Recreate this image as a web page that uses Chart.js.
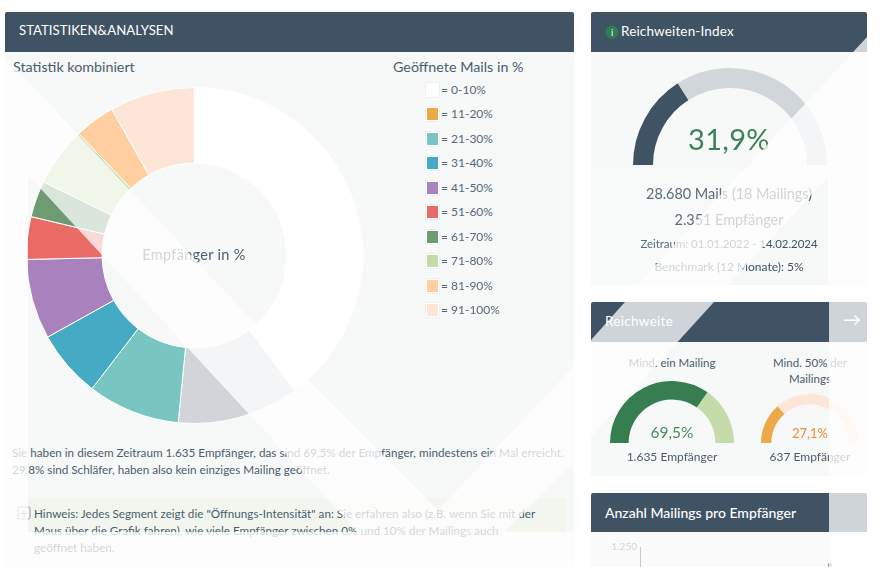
<!DOCTYPE html>
<html>
<head>
<meta charset="utf-8">
<title>Statistiken</title>
<script src="https://cdn.jsdelivr.net/npm/chart.js@4/dist/chart.umd.min.js"></script>
<style>
html,body{margin:0;padding:0;background:#fff;overflow:hidden;width:880px;height:567px}
body{position:relative;font-family:Lato,"Open Sans",sans-serif;color:#44586a}
.box{position:absolute}
.head{position:absolute;background:#3f5364;border-radius:2px 2px 0 0}
.body{position:absolute;background:#f7f8f8}
.t{position:absolute;white-space:nowrap;transform:translateY(-50%);line-height:1.2}
.c{transform:translate(-50%,-50%)}
canvas{position:absolute}
#wm{position:absolute;left:0;top:0}
</style>
</head>
<body>
<div class="body" style="left:5px;top:52px;width:569px;height:515px"></div>
<div class="body" style="left:28px;top:498px;width:538px;height:34px;background:#f2f6ee"></div>
<div class="head" style="left:5px;top:12px;width:569px;height:40px"></div>
<div class="body" style="left:591px;top:52px;width:276px;height:233px"></div>
<div class="head" style="left:591px;top:12px;width:276px;height:40px"></div>
<div class="body" style="left:591px;top:342px;width:276px;height:134px"></div>
<div class="head" style="left:591px;top:302px;width:276px;height:40px"></div>
<div class="body" style="left:591px;top:532px;width:276px;height:35px;background:#fbfbfc"></div>
<div class="head" style="left:591px;top:493px;width:276px;height:39px"></div>

<canvas id="mainChart" width="337" height="337" style="left:26px;top:87px;width:337px;height:337px"></canvas>
<canvas id="indexGauge" width="194" height="97" style="left:633px;top:68px;width:194px;height:97px"></canvas>
<canvas id="reachGauge1" width="124" height="62" style="left:610px;top:381px;width:124px;height:62px"></canvas>
<canvas id="reachGauge2" width="98" height="49" style="left:761px;top:394px;width:98px;height:49px"></canvas>
<canvas id="mailsChart" width="276" height="300" style="left:591px;top:537px;width:276px;height:300px"></canvas>

<div id="texts"></div>
<div id="legend"></div>

<svg id="wm" width="880" height="567">
  <g fill="#fff" fill-opacity="0.75">
    <polygon points="8,60 310,382 438,510 575,365 575,460 505,532 358,532 28,175 28,532 5,532 5,60"/>
    <polygon points="0,532 575,532 575,567 0,567"/>
    <polygon points="867,37 792,118 637,285 728,285 828,177 828,285 867,285"/>
    <polygon points="625,302 714,302 591,437 591,340"/>
    <polygon points="829,302 867,302 867,567 829,567"/>
  </g>
  <polygon points="591,172 745,172 637,285 591,285" fill="#fff" fill-opacity="0.15"/>
</svg>

<script>
// main ring, clockwise from the top
var sliceLabels=["0-10%","11-20%","21-30%","31-40%","41-50%","51-60%","61-70%","71-80%","81-90%","91-100%"];
var sliceValues=[39.9,11.7,8.9,6.5,7.7,4.1,3.5,5.7,3.9,8.2];
var sliceColors=["#ffffff","#d1d5d9","#78c5c1","#45abc5","#a981bd","#ea6b66","#6d9c72","#c5dbaa","#ffcf9f","#fde6d8"];
var legendColors=["#ffffff","#e9ab45","#78c5c1","#45abc5","#a981bd","#ea6b66","#6d9c72","#c5dbaa","#ffcf9f","#fde6d8"];

var indexValues=[31.9,68.1];
var reachOne=[69.5,30.5];
var reachFifty=[27.1,72.9];

// only the top of this chart is on the screenshot
var mailsX=[15.4];
var mailsY=[1170];
var mailsTicks=[0,1250];

var textColor="#4a5d6e";

function addText(txt,x,y,size,color,center,weight)
{
	var d=document.createElement("div");
	d.className=center ? "t c" : "t";
	d.style.left=x+"px";
	d.style.top=y+"px";
	d.style.fontSize=size+"px";
	if(color) d.style.color=color;
	if(weight) d.style.fontWeight=weight;
	d.textContent=txt;
	document.getElementById("texts").appendChild(d);
	return d;
}

addText("STATISTIKEN&ANALYSEN",19,31,13.2,"#fff");
addText("Statistik kombiniert",13,67,14.3,textColor);
addText("Geöffnete Mails in %",393,67,14.3,textColor);
addText("Empfänger in %",194,255,14.5,textColor,true).style.letterSpacing=".3px";

var para=[
	["Sie haben in diesem Zeitraum 1.635 Empfänger, das sind 69,5% der Empfänger, mindestens ein Mal erreicht.",12,452],
	["29,8% sind Schläfer, haben also kein einziges Mailing geöffnet.",12,469],
	["Hinweis: Jedes Segment zeigt die \"Öffnungs-Intensität\" an: Sie erfahren also (z.B. wenn Sie mit der",34,513],
	["Maus über die Grafik fahren), wie viele Empfänger zwischen 0% und 10% der Mailings auch",34,530],
	["geöffnet haben.",34,547]
];
for(var i=0;i<para.length;i++)
{
	addText(para[i][0],para[i][1],para[i][2],11.7,textColor);
}

// little plus box in front of the hint
var plus=addText("+",24,513,13,"#7f8c96",true);
plus.style.width="11px";plus.style.height="11px";plus.style.lineHeight="10px";plus.style.textAlign="center";
plus.style.border="1px solid #8f9aa3";plus.style.borderRadius="2px";

// right column
var icon=addText("i",612,32,9,"#fff",true);
icon.style.width="13px";icon.style.height="13px";icon.style.lineHeight="13px";icon.style.textAlign="center";
icon.style.background="#2f7d52";icon.style.borderRadius="50%";
addText("Reichweiten-Index",621,31,13.5,"#fff").style.letterSpacing=".15px";
addText("31,9%",729,139,29,"#3a8259",true).style.letterSpacing=".3px";
addText("28.680 Mails (18 Mailings)",729,194,14.5,"#3f5364",true).style.letterSpacing="-.05px";
addText("2.351 Empfänger",729,220,14.5,"#3f5364",true).style.letterSpacing="-.05px";
addText("Zeitraum: 01.01.2022 - 14.02.2024",729,244,11.5,"#3f5364",true).style.letterSpacing="-.05px";
addText("Benchmark (12 Monate): 5%",729,267,12,"#3f5364",true);

addText("Reichweite",605,321,13.5,"#fff").style.letterSpacing=".3px";
addText("→",852,320,18,"#fff",true);
addText("Mind. ein Mailing",672,363,11.5,textColor,true);
addText("Mind. 50% der",810,363,11.5,textColor,true);
addText("Mailings",810,379,11.5,textColor,true);
addText("69,5%",672,432,15.5,"#4a8a63",true);
addText("27,1%",810,434,13,"#ef8a3c",true);
addText("1.635 Empfänger",672,457,12,textColor,true);
addText("637 Empfänger",810,457,12,textColor,true);
addText("Anzahl Mailings pro Empfänger",605,513,14,"#fff",false,500);

// legend
for(var j=0;j<sliceLabels.length;j++)
{
	var rowY=90+j*24.45;
	var sw=document.createElement("div");
	sw.className="box";
	sw.style.cssText="left:427px;top:"+(rowY-6)+"px;width:11px;height:12px;background:"+legendColors[j]+";box-shadow:0 0 0 1px #fff,0 0 0 2px #eef0f1";
	document.getElementById("legend").appendChild(sw);
	addText("= "+sliceLabels[j],441,rowY,12,"#566878");
}

function gauge(id,values,colors,cut)
{
	new Chart(document.getElementById(id),{
		type:"doughnut",
		data:{datasets:[{data:values,backgroundColor:colors,borderWidth:0}]},
		options:{
			responsive:false,
			animation:false,
			rotation:-90,
			circumference:180,
			cutout:cut,
			plugins:{legend:{display:false},tooltip:{enabled:false}}
		}
	});
}

new Chart(document.getElementById("mainChart"),{
	type:"doughnut",
	data:{
		labels:sliceLabels,
		datasets:[{data:sliceValues,backgroundColor:sliceColors,borderColor:"#fff",borderWidth:1}]
	},
	options:{
		responsive:false,
		animation:false,
		cutout:"55%",
		plugins:{legend:{display:false},tooltip:{enabled:false}}
	}
});

gauge("indexGauge",indexValues,["#3f5364","#d1d6da"],"79.4%");
gauge("reachGauge1",reachOne,["#367d4f","#c5dbaa"],"70%");
gauge("reachGauge2",reachFifty,["#eba94a","#fde6d8"],"79%");

new Chart(document.getElementById("mailsChart"),{
	type:"scatter",
	data:{datasets:[{data:mailsX.map(function(v,k){return {x:v,y:mailsY[k]};}),pointRadius:2,backgroundColor:"#8a98a3"}]},
	options:{
		responsive:false,
		animation:false,
		layout:{padding:{top:10,right:0,bottom:0,left:0}},
		scales:{
			x:{display:false,min:0,max:18},
			y:{
				min:mailsTicks[0],
				max:mailsTicks[1],
				afterFit:function(s){s.width=49;},
				afterBuildTicks:function(s){s.ticks=mailsTicks.map(function(v){return {value:v};});},
				grid:{display:false,drawTicks:false},
				border:{display:true,color:"#c3cad0"},
				ticks:{
					color:"#d0d5d9",
					font:{family:"Lato",size:10},
					padding:3,
					callback:function(v){return v==1250 ? "1.250" : "0";}
				}
			}
		},
		plugins:{legend:{display:false},tooltip:{enabled:false}}
	}
});
</script>
</body>
</html>
